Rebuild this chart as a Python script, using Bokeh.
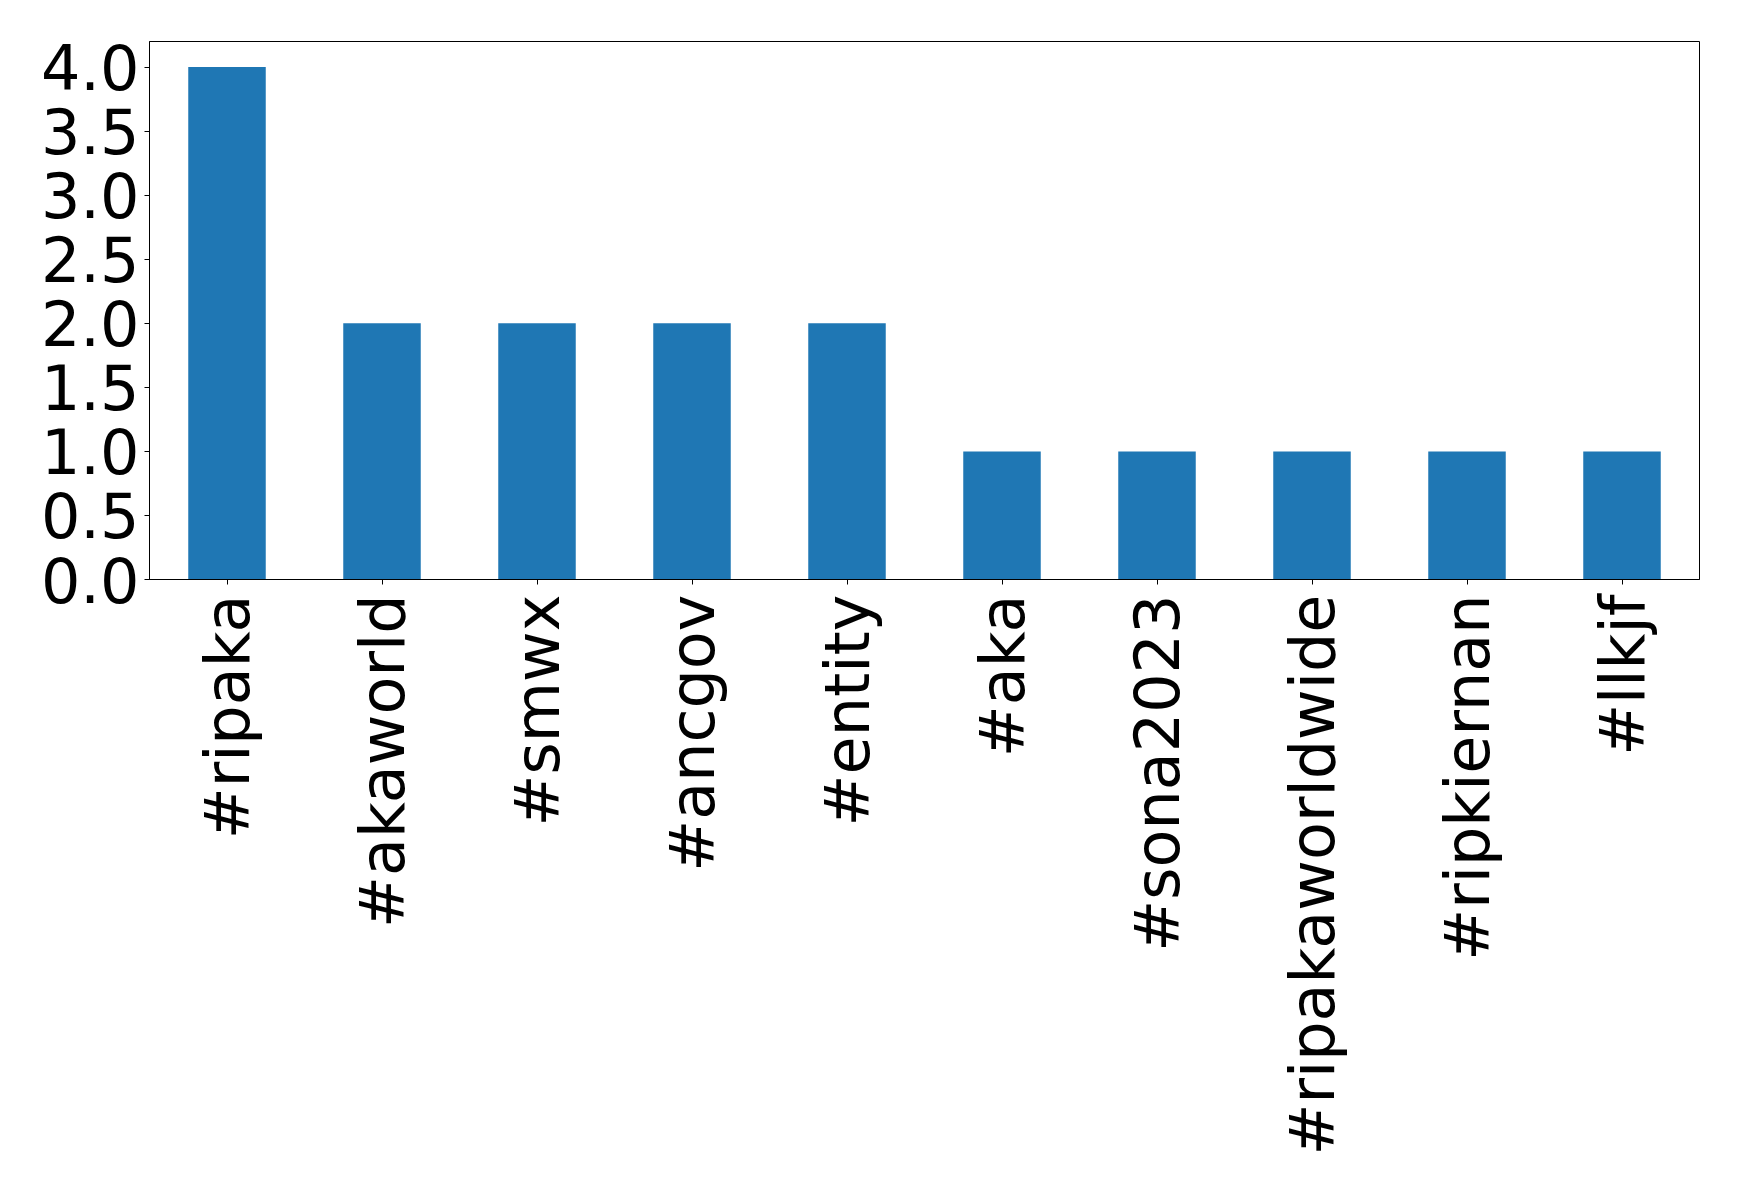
import math
from bokeh.plotting import figure
from bokeh.models import FactorRange, Range1d, FixedTicker, PrintfTickFormatter
from bokeh.embed import file_html
from bokeh.resources import INLINE

hashtags = ["#ripaka", "#akaworld", "#smwx", "#ancgov", "#entity", "#aka",
            "#sona2023", "#ripakaworldwide", "#ripkiernan", "#llkjf"]
counts = [4, 2, 2, 2, 2, 1, 1, 1, 1, 1]
y_ticks = [0.0, 0.5, 1.0, 1.5, 2.0, 2.5, 3.0, 3.5, 4.0]

FONT = "DejaVu Sans"
FS = "62px"

p = figure(width=1731, height=1186, output_backend="svg", toolbar_location=None,
           x_range=FactorRange(*hashtags, range_padding=0),
           y_range=Range1d(0, 4.2))
p.min_border_left = 149
p.min_border_top = 41
p.min_border_right = 32
p.min_border_bottom = 607

p.vbar(x=hashtags, top=counts, width=0.5, color="#1f77b4", line_color=None)

p.xgrid.visible = False
p.ygrid.visible = False
p.outline_line_color = "black"
p.outline_line_width = 1

for ax in (p.xaxis[0], p.yaxis[0]):
    ax.major_label_text_font = FONT
    ax.major_label_text_font_size = FS
    ax.major_label_text_color = "black"
    ax.axis_line_color = "black"
    ax.major_tick_line_color = "black"
    ax.major_tick_out = 5
    ax.major_tick_in = 0
    ax.minor_tick_line_color = None

p.xaxis.major_label_orientation = math.pi / 2
p.xaxis.major_label_standoff = 10
p.yaxis.major_label_standoff = 5
p.yaxis.ticker = FixedTicker(ticks=y_ticks)
p.yaxis.formatter = PrintfTickFormatter(format="%.1f")

open("out.html", "w").write(file_html(p, INLINE))
